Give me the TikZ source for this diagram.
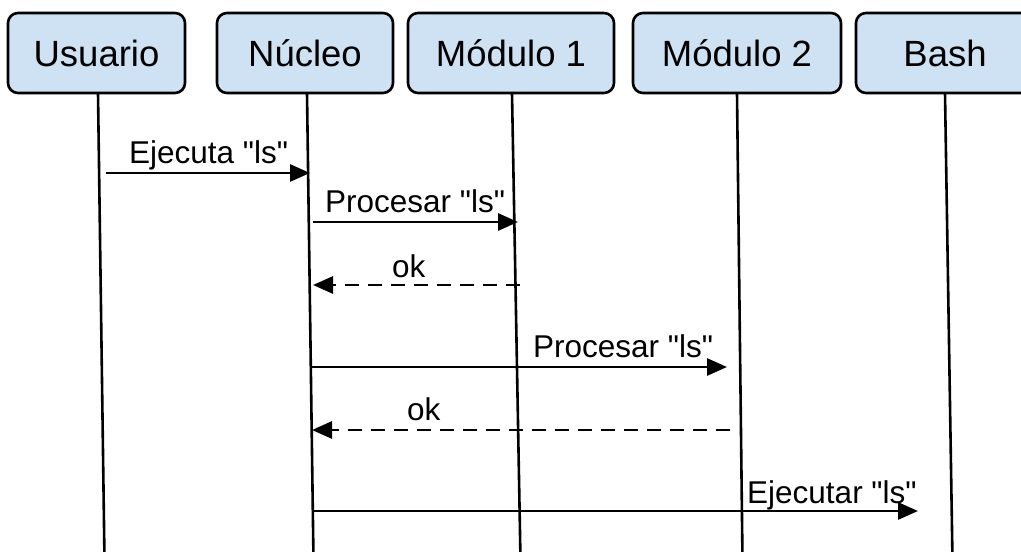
\documentclass[tikz,border=0pt]{standalone}
\usepackage{fontspec}
\setmainfont{Liberation Sans}[Ligatures=TeXOff]
\usetikzlibrary{arrows.meta}
\definecolor{boxblue}{HTML}{CFE2F3}
\begin{document}
\begin{tikzpicture}[x=1pt,y=-1pt,
  actor/.style={draw=black, line width=2.6pt, fill=boxblue, rounded corners=10pt,
    minimum height=80pt, inner sep=0pt, font=\fontsize{36.5}{40}\selectfont},
  life/.style={line width=2.6pt},
  msg/.style={line width=2.8pt, -{Triangle[length=20pt,width=17pt]}},
  reply/.style={msg, dash pattern=on 14pt off 9pt},
  lbl/.style={anchor=base west, inner sep=0pt, font=\fontsize{31.5}{34}\selectfont}]
\clip (0,0) rectangle (1021,552);
\fill[white] (0,0) rectangle (1021,552);

% lifelines
\coordinate (uT) at (98,93);    \coordinate (uB) at (104.5,560);
\coordinate (nT) at (307,93);   \coordinate (nB) at (313.5,560);
\coordinate (aT) at (512,93);   \coordinate (aB) at (520.5,560);
\coordinate (bT) at (737,93);   \coordinate (bB) at (742.5,560);
\coordinate (sT) at (945,93);   \coordinate (sB) at (952.5,560);
\draw[life] (uT) -- (uB);
\draw[life] (nT) -- (nB);
\draw[life] (aT) -- (aB);
\draw[life] (bT) -- (bB);
\draw[life] (sT) -- (sB);

% actors
\node[actor, minimum width=177pt] (usuario) at (96.5,53) {Usuario};
\node[actor, minimum width=176pt] (nucleo) at (305,53) {Núcleo};
\node[actor, minimum width=206pt] (mod1) at (511,53) {Módulo 1};
\node[actor, minimum width=208pt] (mod2) at (737,53) {Módulo 2};
\node[actor, minimum width=178pt] (bash) at (945,53) {Bash};

% messages
\coordinate (m1s) at (106,173);  \coordinate (m1e) at (310,173);
\coordinate (m2s) at (313,222);  \coordinate (m2e) at (518,222);
\coordinate (m3s) at (520,285);  \coordinate (m3e) at (313,285);
\coordinate (m4s) at (312,367);  \coordinate (m4e) at (727,367);
\coordinate (m5s) at (730,430);  \coordinate (m5e) at (312,430);
\coordinate (m6s) at (313,511);  \coordinate (m6e) at (918,511);

\draw[msg] (m1s) -- (m1e);
\draw[msg] (m2s) -- (m2e);
\draw[reply] (m3s) -- (m3e);
\draw[msg] (m4s) -- (m4e);
\draw[reply] (m5s) -- (m5e);
\draw[msg] (m6s) -- (m6e);

% labels
\node[lbl] (l1) at (129,163) {Ejecuta "ls"};
\node[lbl] (l2) at (325,212) {Procesar "ls"};
\node[lbl] (l3) at (392,277) {ok};
\node[lbl] (l4) at (533,357) {Procesar "ls"};
\node[lbl] (l5) at (407,420) {ok};
\node[lbl] (l6) at (747,503) {Ejecutar "ls"};
\end{tikzpicture}
\end{document}
